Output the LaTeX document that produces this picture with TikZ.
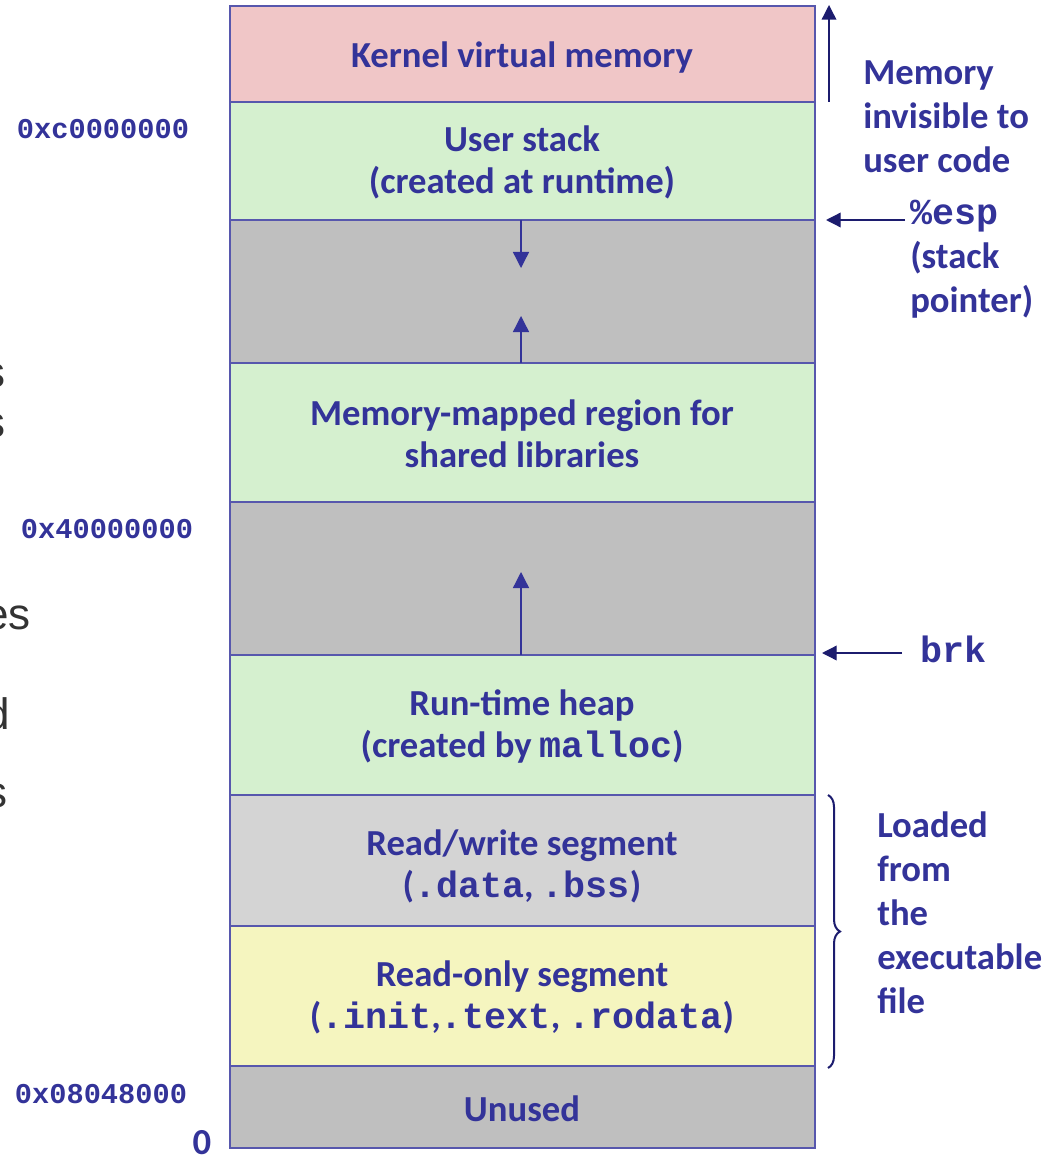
\documentclass[tikz,border=0pt]{standalone}
\usepackage{fontspec}
\setmainfont{Carlito}
\newfontfamily\codefont{Liberation Mono}
\newfontfamily\slidefont{Liberation Sans}
\usetikzlibrary{arrows.meta,decorations.pathreplacing}

\definecolor{textblue}{HTML}{333399}
\definecolor{lineblue}{HTML}{5757AD}
\definecolor{tipnavy}{HTML}{1C1C6E}
\definecolor{kernelpink}{HTML}{F0C6C7}
\definecolor{mapgreen}{HTML}{D5F0CF}
\definecolor{holegray}{HTML}{BFBFBF}
\definecolor{datagray}{HTML}{D4D4D4}
\definecolor{codeyellow}{HTML}{F5F5BF}
\definecolor{slidegray}{HTML}{333333}

\tikzset{
    segment/.style={draw=lineblue, line width=1.2pt},
    seglabel/.style={text=textblue, font=\fontsize{27.5}{31.5}\selectfont\bfseries, align=center, inner sep=0pt},
    sidelabel/.style={text=textblue, font=\fontsize{27.5}{33}\selectfont\bfseries, align=left, inner sep=0pt, anchor=west},
    addrlabel/.style={text=textblue, font=\fontsize{21.5}{24}\selectfont\codefont\bfseries, inner sep=0pt},
    slidetext/.style={text=slidegray, font=\fontsize{33}{38}\selectfont\slidefont, inner sep=0pt, anchor=base east},
    growth/.style={draw=lineblue, line width=1pt, -{Triangle[length=12pt, width=12pt]}, color=textblue},
    pointer/.style={draw=lineblue, line width=1pt, -{Triangle[length=11pt, width=11pt]}, color=tipnavy},
}
\newcommand{\code}[1]{{\codefont\bfseries #1}}

\begin{document}
\begin{tikzpicture}[x=0.75pt, y=-0.75pt]
    \useasboundingbox (0,0) rectangle (1056,1155);

    % the address space, top to bottom
    \filldraw[segment, fill=kernelpink] (230,6) rectangle (815,102);
    \filldraw[segment, fill=mapgreen] (230,102) rectangle (815,220);
    \filldraw[segment, fill=holegray] (230,220) rectangle (815,363);
    \filldraw[segment, fill=mapgreen] (230,363) rectangle (815,502);
    \filldraw[segment, fill=holegray] (230,502) rectangle (815,655);
    \filldraw[segment, fill=mapgreen] (230,655) rectangle (815,795);
    \filldraw[segment, fill=datagray] (230,795) rectangle (815,926);
    \filldraw[segment, fill=codeyellow] (230,926) rectangle (815,1066);
    \filldraw[segment, fill=holegray] (230,1066) rectangle (815,1148);

    \node[seglabel] (kernel) at (522,58) {Kernel virtual memory};
    \node[seglabel] (stack) at (522,162) {User stack\\(created at runtime)};
    \node[seglabel] (mmap) at (522,434) {Memory-mapped region for\\shared libraries};
    \node[seglabel] (heap) at (522,726) {Run-time heap\\(created by \code{malloc})};
    \node[seglabel] (rwdata) at (522,866) {Read/write segment\\(\code{.data}, \code{.bss})};
    \node[seglabel] (rodata) at (522,997) {Read-only segment\\(\code{.init},\code{.text}, \code{.rodata})};
    \node[seglabel] (unused) at (522,1109) {Unused};

    % growth of stack, mappings and heap
    \coordinate (stackbase) at (521,220);
    \coordinate (stackgrow) at (521,268);
    \coordinate (mmaptop) at (521,363);
    \coordinate (mmapgrow) at (521,316);
    \coordinate (heaptop) at (521,655);
    \coordinate (heapgrow) at (521,572);
    \draw[growth] (stackbase) -- (stackgrow);
    \draw[growth] (mmaptop) -- (mmapgrow);
    \draw[growth] (heaptop) -- (heapgrow);

    % addresses
    \node[addrlabel] (kerneladdr) at (103,129) {0xc0000000};
    \node[addrlabel] (mmapaddr) at (107,529) {0x40000000};
    \node[addrlabel] (textaddr) at (101,1094) {0x08048000};
    \node[seglabel] (zeroaddr) at (202,1143) {0};

    % notes on the right
    \node[sidelabel] (invisible) at (863,117) {Memory\\invisible to\\user code};
    \node[sidelabel] (esp) at (910,259) {\code{\%esp}\\(stack\\pointer)};
    \node[sidelabel] (brk) at (920,649) {\code{brk}};
    \node[sidelabel] (loaded) at (877,913) {Loaded\\from\\the\\executable\\file};

    \coordinate (kernelfloor) at (829,102);
    \coordinate (kernelroof) at (829,5);
    \coordinate (esptail) at (905,220);
    \coordinate (esptip) at (826,220);
    \coordinate (brktail) at (902,653);
    \coordinate (brktip) at (822,653);
    \draw[pointer] (kernelfloor) -- (kernelroof);
    \draw[pointer] (esptail) -- (esptip);
    \draw[pointer] (brktail) -- (brktip);

    \coordinate (bracetop) at (828,795);
    \coordinate (bracebottom) at (828,1068);
    \draw[tipnavy, line width=1.5pt, decorate, decoration={brace, amplitude=9pt}] (bracetop) -- (bracebottom);

    % cut-off words of the slide text on the left
    \node[slidetext] (cut1) at (6,387) {s};
    \node[slidetext] (cut2) at (6,437) {s};
    \node[slidetext] (cut3) at (31,629) {es};
    \node[slidetext] (cut4) at (10,729) {d};
    \node[slidetext] (cut5) at (8,807) {s};
\end{tikzpicture}
\end{document}
